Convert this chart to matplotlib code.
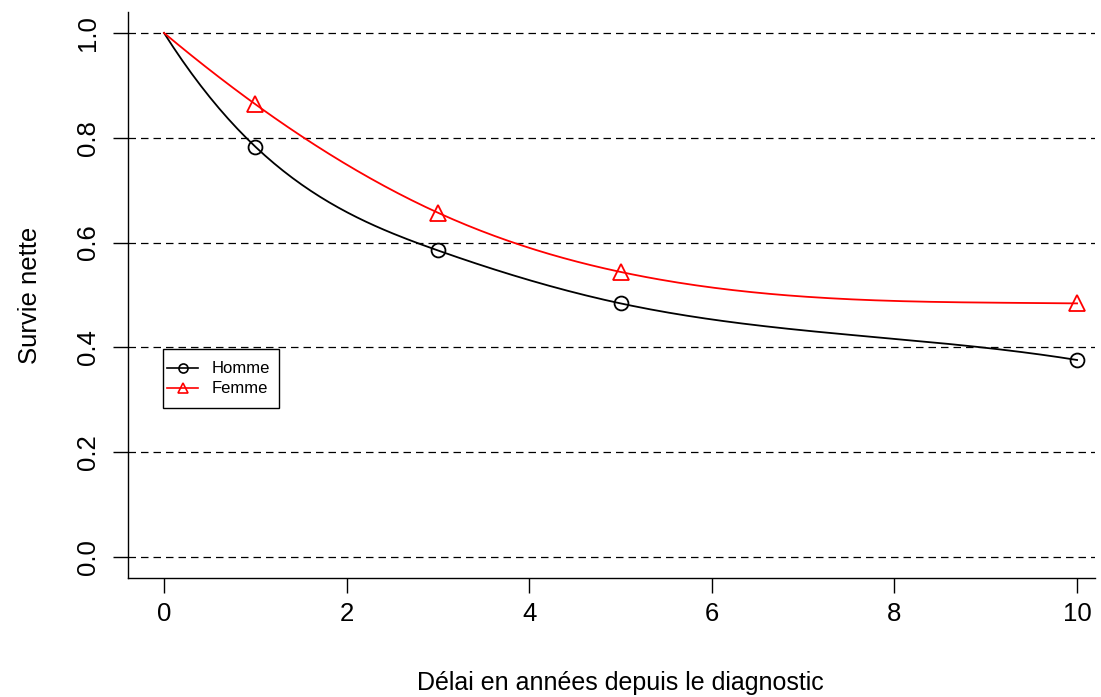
import numpy as np
import matplotlib.pyplot as plt
from matplotlib.lines import Line2D
from matplotlib.patches import Rectangle

plt.rcParams['font.family'] = ['Liberation Sans', 'DejaVu Sans']

# survie nette par sexe, a 1, 3, 5 et 10 ans
delai = [0, 1, 3, 5, 10]
homme = [1.0, 0.783, 0.585, 0.484, 0.376]
femme = [1.0, 0.864, 0.657, 0.544, 0.484]
yticks = [0.0, 0.2, 0.4, 0.6, 0.8, 1.0]
xticks = [0, 2, 4, 6, 8, 10]


def spline_fmm(x, y, n=200):
    # cubic spline, end conditions of Forsythe-Malcolm-Moler (as in R's spline())
    x = np.asarray(x, float)
    y = np.asarray(y, float)
    k = len(x)
    h = np.diff(x)

    def d3(xs, ys):
        d1 = np.diff(ys) / np.diff(xs)
        d2 = np.diff(d1) / (xs[2:] - xs[:-2])
        return (d2[1] - d2[0]) / (xs[3] - xs[0])

    A = np.zeros((k, k))
    b = np.zeros(k)
    A[0, 0], A[0, 1] = -1 / h[0], 1 / h[0]
    b[0] = 6 * d3(x[:4], y[:4])
    A[-1, -2], A[-1, -1] = -1 / h[-1], 1 / h[-1]
    b[-1] = 6 * d3(x[-4:], y[-4:])
    for i in range(1, k - 1):
        A[i, i - 1] = h[i - 1]
        A[i, i] = 2 * (h[i - 1] + h[i])
        A[i, i + 1] = h[i]
        b[i] = 6 * ((y[i + 1] - y[i]) / h[i] - (y[i] - y[i - 1]) / h[i - 1])
    M = np.linalg.solve(A, b)

    t = np.linspace(x[0], x[-1], n)
    idx = np.clip(np.searchsorted(x, t) - 1, 0, k - 2)
    x0, x1 = x[idx], x[idx + 1]
    hh = x1 - x0
    s = (M[idx] * (x1 - t) ** 3 / (6 * hh) + M[idx + 1] * (t - x0) ** 3 / (6 * hh)
         + (y[idx] / hh - M[idx] * hh / 6) * (x1 - t)
         + (y[idx + 1] / hh - M[idx + 1] * hh / 6) * (t - x0))
    return t, s


fig = plt.figure(figsize=(11.01, 6.97), dpi=100)
ax = fig.add_axes([0.1163, 0.1707, 0.8783, 0.8121])

for v in yticks:
    ax.axhline(v, color='black', lw=0.9, ls=(0, (6, 4)), zorder=1)

series = [
    ('Homme', homme, 'black', 'o', 10, 6.5),
    ('Femme', femme, 'red', '^', 11.5, 7.5),
]
for name, vals, col, mk, ms, _ in series:
    tx, sx = spline_fmm(delai, vals)
    ax.plot(tx, sx, color=col, lw=1.3, zorder=2)
    ax.plot(delai[1:], vals[1:], ls='none', marker=mk, ms=ms, mfc='none',
            mec=col, mew=1.3, zorder=3)

ax.set_xlim(-0.394, 10.197)
ax.set_ylim(-0.04, 1.04)
ax.set_xticks(xticks)
ax.set_yticks(yticks)
ax.set_yticklabels([f'{v:.1f}' for v in yticks], rotation=90, va='center')
ax.tick_params(labelsize=18.5, length=11, width=1)
ax.tick_params(axis='x', pad=6)
ax.tick_params(axis='y', pad=9)
ax.spines['top'].set_visible(False)
ax.spines['right'].set_visible(False)
ax.spines['left'].set_linewidth(1)
ax.spines['bottom'].set_linewidth(1)

ax.set_xlabel('Délai en années depuis le diagnostic', fontsize=18)
ax.xaxis.set_label_coords(0.509, -0.164)
ax.set_ylabel('Survie nette', fontsize=18.5, labelpad=25)

# legend box drawn by hand (axes fraction coordinates)
tr = ax.transAxes
ax.add_patch(Rectangle((0.0362, 0.3004), 0.12, 0.1042, transform=tr,
                       facecolor='white', edgecolor='black', lw=1, zorder=4))
for (name, _, col, mk, _, lms), yy in zip(series, [0.371, 0.3357]):
    ax.add_line(Line2D([0.0403, 0.0724], [yy, yy], transform=tr, color=col,
                       lw=1.2, zorder=5))
    ax.add_line(Line2D([0.0564], [yy], transform=tr, color=col, marker=mk,
                       ms=lms, mfc='none', mew=1.2, zorder=5))
    ax.text(0.0869, yy, name, transform=tr, fontsize=12, va='center',
            ha='left', zorder=5)

fig.savefig('out.png', dpi=100)
